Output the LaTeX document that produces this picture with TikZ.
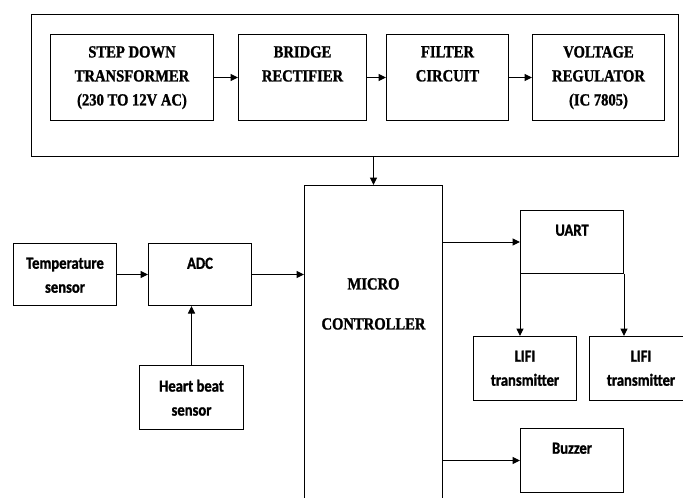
\documentclass[tikz,border=0pt]{standalone}
\usepackage{fontspec}
\setmainfont{Liberation Serif}[FakeStretch=0.86, BoldFeatures={FakeBold=1.2}]
\newfontfamily\calibri{Carlito}[FakeStretch=0.86, BoldFeatures={FakeBold=1.2}]
\usetikzlibrary{arrows.meta, positioning}

\begin{document}
\begin{tikzpicture}[x=1pt, y=-1pt,
    block/.style={rectangle, draw, line width=1pt, inner sep=0pt, anchor=north west},
    serif/.style={font=\fontsize{17}{24}\selectfont\bfseries, align=center, inner sep=0pt, anchor=north},
    sans/.style={font=\calibri\fontsize{17}{24}\selectfont\bfseries, align=center, inner sep=0pt, anchor=north},
    arrow/.style={-{Triangle[length=7.5pt, width=7pt]}, line width=1pt}
]
    \useasboundingbox (0,0) rectangle (683,498);

    % Power supply
    \node[block, minimum width=647, minimum height=142] (supply) at (31,14) {};
    \node[block, minimum width=163, minimum height=86,
        label={[serif, yshift=-12pt]north:STEP DOWN\\TRANSFORMER\\(230 TO 12V AC)}] (step) at (50,34) {};
    \node[block, minimum width=128, minimum height=86, right=24pt of step,
        label={[serif, yshift=-12pt]north:BRIDGE\\RECTIFIER}] (bridge) {};
    \node[block, minimum width=122, minimum height=86, right=19pt of bridge,
        label={[serif, yshift=-12pt]north:FILTER\\CIRCUIT}] (filter) {};
    \node[block, minimum width=132, minimum height=86, right=23pt of filter,
        label={[serif, yshift=-12pt]north:VOLTAGE\\REGULATOR\\(IC 7805)}] (regulator) {};

    % Controller
    \node[block, minimum width=138, minimum height=330,
        label={[serif, yshift=-93pt]north:MICRO\\[16pt]CONTROLLER}] (micro) at (304,185) {};

    % Inputs
    \node[block, minimum width=103, minimum height=62,
        label={[sans, yshift=-14.5pt]north:Temperature\\sensor}] (temp) at (13,243) {};
    \node[block, minimum width=103, minimum height=62,
        label={[sans, yshift=-14.5pt]north:ADC}] (adc) at (148,243) {};
    \node[block, minimum width=104, minimum height=64,
        label={[sans, yshift=-14.5pt]north:Heart beat\\sensor}] (heart) at (139,365) {};

    % Outputs
    \node[block, minimum width=103, minimum height=63,
        label={[sans, yshift=-14.5pt]north:UART}] (uart) at (520,210) {};
    \node[block, minimum width=103, minimum height=64,
        label={[sans, yshift=-14.5pt]north:LIFI\\transmitter}] (lifiA) at (473,336) {};
    \node[block, minimum width=103, minimum height=64,
        label={[sans, yshift=-14.5pt]north:LIFI\\transmitter}] (lifiB) at (589,336) {};
    \node[block, minimum width=103, minimum height=64,
        label={[sans, yshift=-14.5pt]north:Buzzer}] (buzzer) at (520,428) {};

    % Connections
    \draw[arrow] (step) -- (bridge);
    \draw[arrow] (bridge) -- (filter);
    \draw[arrow] (filter) -- (regulator);
    \draw[arrow] (supply.south -| micro.north) -- (micro.north);
    \draw[arrow] (temp) -- (adc);
    \draw[arrow] (adc.east) -- (adc.east -| micro.west);
    \draw[arrow] (heart.north) -- (heart.north |- adc.south);
    \draw[arrow] (micro.east |- uart.west) -- (uart.west);
    \draw[arrow] (micro.east |- buzzer.west) -- (buzzer.west);
    \draw[arrow] (uart.south west) -- (uart.south west |- lifiA.north);
    \draw[arrow] (uart.south east) -- (uart.south east |- lifiB.north);
\end{tikzpicture}
\end{document}
